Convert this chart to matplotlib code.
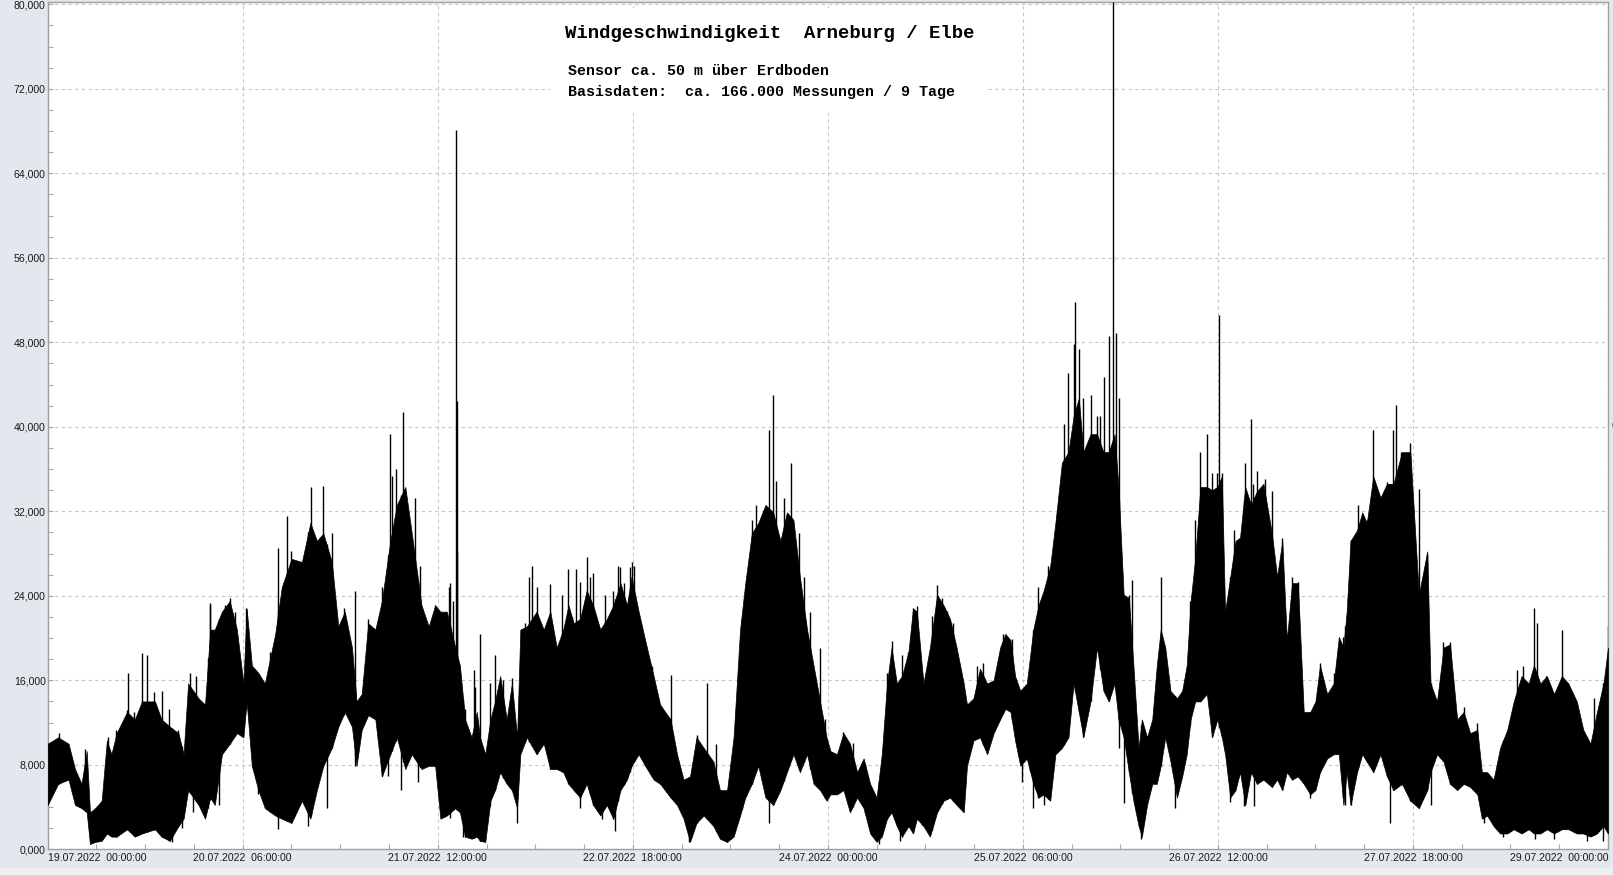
import numpy as np
import matplotlib
matplotlib.use("Agg")
import matplotlib.pyplot as plt
from matplotlib.patches import Rectangle
from matplotlib.ticker import MultipleLocator

W, H = 1613, 875

# time axis: hours since 19.07.2022 00:00:00
hours = [0.0, 1.6, 3.2, 4.2, 5.2, 6.0, 6.5, 7.3, 8.3, 9.1, 9.8, 10.6, 12.2, 13.4, 14.5,
         16.5, 17.5, 18.8, 20.1, 20.9, 21.6, 23.2, 24.2, 25.0, 25.7, 26.8, 28.0, 29.1,
         30.1, 30.6, 31.4, 32.4, 33.4, 35.0, 36.0, 37.5, 39.1, 40.4, 41.4, 42.4, 43.7,
         44.7, 45.7, 46.8, 47.5, 48.3, 49.3, 50.4, 51.4, 52.7, 53.7, 55.0, 56.0, 57.5,
         58.6, 59.6,
         60.4, 61.4, 62.7, 63.4, 64.2, 65.2, 66.0, 66.5, 67.3, 68.1, 68.8, 69.6, 70.6,
         71.4, 72.2, 72.7, 73.7, 75.2, 76.3, 77.3, 78.3, 79.3, 80.1, 80.9, 81.9, 82.9,
         83.9, 85.0, 86.0, 87.0, 88.1, 89.1, 89.8, 90.9, 91.9, 93.2, 94.2, 95.8, 96.8,
         97.8, 98.8, 99.8, 100.9, 102.4, 103.4, 104.5, 105.5, 106.5, 107.3, 108.3,
         109.3, 110.4, 111.6, 112.7, 113.7, 114.7, 115.7, 116.8, 117.8, 118.8, 119.8,
         120.4, 121.4, 122.4, 123.4, 124.5, 125.5, 126.5, 127.5, 128.3, 129.1, 129.8,
         130.6, 131.4, 132.4, 133.1, 133.7, 134.7, 135.7, 136.8, 137.8, 138.8, 139.8,
         140.9, 141.4, 142.4, 143.4, 144.5, 145.5, 146.5, 147.3, 148.1, 148.8, 149.6,
         150.6, 151.6, 152.4, 153.2, 154.2, 155.0, 156.0, 157.0, 157.8, 158.6, 159.3,
         160.4, 161.4, 162.4, 163.2, 164.1, 164.7, 165.5, 166.3, 167.0, 167.8, 168.3,
         169.1, 169.9, 170.6, 171.2, 171.9, 172.7, 173.7, 174.5, 175.2, 175.8, 176.5,
         177.3, 178.3,
         179.1, 179.9, 180.6, 181.1, 181.9, 182.7, 183.4, 184.2, 185.1, 186.0, 187.0,
         188.3, 189.1, 189.9, 190.6, 191.4, 192.3, 193.2, 194.2, 195.0, 195.7, 196.8,
         197.8, 198.6, 199.3, 199.8, 200.4, 201.4, 202.2, 202.9, 203.9, 205.0, 206.0,
         207.0, 208.3, 209.6, 210.9, 212.2, 212.7, 213.7, 214.7, 215.7, 216.8, 217.8,
         218.8, 219.9, 220.6, 221.4, 222.4, 223.4, 224.5, 225.5, 226.7, 227.8, 228.6,
         229.6, 230.6, 231.7, 232.9, 233.9, 235.2, 236.2, 237.3, 238.3, 239.3, 240.0]

# upper edge of the dense band of measurements
top = [10000, 10600, 10000, 7600, 6200, 9300, 3500, 3900, 4600, 10300, 9000, 11000, 13000,
       12300, 14000, 14000, 12300, 11600, 11000, 9000, 15700, 14300, 13700, 20800, 20800,
       22500, 23500, 20800, 15700, 22800, 17400, 16700, 15700, 20400, 24800, 27500, 27200,
       30900, 29200, 29900, 27200, 21100, 22500, 19100, 14000, 14700, 21400, 20800, 23500,
       29200, 32600, 34300, 29900, 23100, 21100, 23100,
       22500, 22500, 19100, 17400, 12300, 10600, 13000, 10600, 9000, 12300, 14000, 16400,
       12300, 15700, 10600, 20800, 21100, 22500, 20800, 22500, 19100, 20800, 23100, 21400,
       21800, 24500, 23100, 20800, 21800, 23100, 25200, 23100, 25800, 22500, 19800, 16400,
       13700, 12300, 9000, 6600, 6900, 10600, 9600, 8300, 5600, 5600, 10600, 20800, 25200,
       29900, 30900, 32600, 31900, 29200, 31900, 31200, 25800, 20800, 17400, 14000, 10600,
       9300, 9000, 11000, 10000, 7300, 8600, 6200, 4900, 9000, 15700, 19100, 15700, 16400,
       18700, 22800, 22500, 15700, 19100, 24100, 23100, 21800, 19100, 15700, 13700, 14300,
       17100, 15700, 16000, 19100, 20400, 19800, 16400, 15000, 15700, 20800, 23100, 24500,
       26800, 30900, 36600, 37600, 41000, 42700, 37600, 39300, 39300, 37600, 37600, 39300,
       34300, 24100, 23800, 17400, 9600, 12300, 10600, 12300, 17400, 20800, 19100, 15000,
       14300, 15000, 17400, 23500, 27500, 34300, 34300,
       34000, 34300, 35300, 22500, 25800, 29200, 29500, 34300, 32600, 33900, 34600, 29900,
       25800, 29200, 19800, 25200, 25200, 13000, 13000, 14000, 17400, 14700, 15700, 20100,
       19100, 22500, 29200, 30200, 31900, 30900, 35300, 33300, 34600, 34600, 37600, 37600,
       24100, 28200, 15700, 14000, 19100, 19400, 12300, 13000, 11000, 11300, 7300, 7300,
       6600, 9600, 11300, 14000, 16400, 15700, 17400, 15700, 16400, 14700, 16400, 15700,
       14000, 11300, 10000, 13000, 15700, 19100]

# lower edge of the dense band
bottom = [4200, 6200, 6600, 4200, 3900, 3500, 500, 700, 800, 1500, 1200, 1200, 1900, 1200,
          1500, 1900, 1200, 800, 2200, 2900, 5600, 4200, 2900, 4900, 4200, 9000, 10000,
          11000, 10600, 14000, 7900, 5600, 3900, 3200, 2900, 2500, 4600, 2900, 5600, 7900,
          9600, 11600, 13000, 11600, 7900, 11300, 12700, 12300, 6900, 9000, 10600, 7600,
          9000, 7600, 7900, 7900,
          2900, 3200, 3900, 3500, 1200, 1000, 1200, 800, 700, 4600, 5600, 7300, 6200, 5600,
          3900, 9000, 10600, 9000, 10000, 7600, 7600, 7300, 6200, 5600, 4900, 6200, 4200,
          3200, 4200, 2900, 5600, 6600, 7900, 9000, 7900, 6600, 6200, 4900, 4200, 2900, 700,
          2500, 3200, 2200, 1000, 700, 1200, 3200, 4900, 6200, 7900, 4900, 4200, 5600, 7300,
          9000, 7300, 9000, 6200, 5600, 4600,
          5200, 5200, 5600, 3500, 4900, 3900, 1500, 700, 1200, 2900, 3500, 2200, 1200, 2200,
          1500, 2900, 2200, 1200, 3500, 4600, 4900, 4200, 3500, 7900, 10300, 10600, 9000,
          11000, 12300, 13300, 13000, 10300, 7900, 8600, 6200, 4900, 5200, 4600, 9000, 9600,
          10600, 15700, 13000, 10600, 14000, 19100, 15000, 14000, 15700, 12300, 10600, 7300,
          4600, 2200, 1200, 4200, 6200, 6200, 7900, 10600, 8300, 4900, 6900, 9000, 12300,
          14000, 14000, 14700,
          10600, 12300, 10600, 9000, 4900, 5600, 7300, 4200, 7300, 6200, 6600, 5900, 6600,
          5600, 7300, 6600, 6900, 6200, 5200, 5600, 7300, 8600, 9000, 9000, 4200, 7300, 4200,
          7300, 9000, 8300, 7300, 9000, 6900, 5600, 6200, 4600, 3900, 5600, 7300, 9000, 8300,
          6200, 5600, 6200, 5900, 5200, 2900, 3200, 2200, 1500, 1500, 1900, 1500, 1900, 1500,
          1500, 1900, 1500, 1900, 1900, 1500, 1500, 1200, 1500, 2200, 1500]

# single measurements reaching above the band
spike_h = [1.7, 5.8, 9.3, 10.5, 12.2, 12.4, 13.3, 14.5, 15.2, 16.3, 17.6, 18.7, 20.0, 21.9,
           22.8, 24.9, 25.0, 26.3, 27.3, 28.0, 28.8, 30.5, 34.2, 35.5, 36.8, 37.5, 39.0,
           40.5, 42.4, 43.7, 45.5, 47.3, 49.3, 51.4, 52.7, 52.9, 53.5, 54.7, 56.5, 57.3,
           59.6,
           60.9, 61.7, 61.9, 62.3, 62.8, 62.9, 63.0, 64.2, 65.5, 65.7, 66.5, 68.0, 68.8,
           70.1, 71.4, 73.4, 74.1, 74.5, 75.2, 77.3, 79.1, 80.1, 81.2, 81.9, 82.9, 83.4,
           83.9, 85.7, 87.0, 87.7, 88.1, 88.6, 89.5, 89.8, 90.2, 91.4, 92.9, 94.2, 95.8,
           99.8, 101.4, 102.8, 106.8, 107.4, 108.3, 109.0, 109.8, 110.9, 111.6, 112.1,
           113.2, 114.4, 115.5, 116.3, 117.3, 118.8, 119.5,
           122.4, 123.8, 125.7, 129.1, 129.8, 131.4, 132.3, 133.1, 133.7, 134.5, 136.0,
           136.8, 137.5, 138.3, 139.3, 142.9, 143.9, 147.0, 148.3, 151.1, 152.4, 153.9,
           155.2, 156.3, 157.0, 157.8, 158.0, 158.6, 159.3, 160.4, 161.4, 161.9, 162.4,
           163.2, 163.9, 164.3, 164.8, 166.3, 166.8, 171.2, 175.7, 176.5, 177.3, 178.3,
           179.1, 179.6, 179.9,
           180.2, 180.6, 182.5, 183.4, 184.2, 185.1, 185.4, 186.0, 187.2, 188.3, 189.9,
           191.4, 192.3, 195.7, 197.8, 199.2, 200.4, 201.6, 202.9, 203.9, 205.1, 206.0,
           207.0, 207.4, 208.1, 209.6, 210.9, 212.2, 214.6, 215.7, 217.8, 219.9, 223.7,
           226.0, 227.0, 228.6, 229.1, 230.4, 232.9, 234.7, 237.8, 240.0]
spike_v = [11000, 9500, 10600, 11300, 13200, 16700, 13000, 18600, 18400, 14900, 15000,
           13300, 11300, 16700, 16400, 23300, 23100, 21800, 23100, 23800, 22500, 22800,
           18700, 28500, 31600, 28200, 27200, 34300, 34400, 29900, 22800, 24500, 21800,
           24800, 39300, 35300, 36000, 41400, 33300, 26800, 23100,
           22100, 24800, 25200, 23500, 68100, 42400, 28200, 13300, 17000, 15400, 20400,
           15700, 18400, 16000, 16200, 21400, 25800, 26800, 24800, 25100, 24100, 26500,
           26500, 25300, 27700, 25800, 26200, 24100, 24500, 26800, 26700, 25200, 26700,
           27200, 26800, 20400, 17400, 13700, 16500, 10800, 15700, 10000, 21800, 24800,
           31200, 32600, 31200, 39700, 43000, 34900, 33300, 36600, 29900, 25800, 22500,
           19100, 12300,
           11100, 10100, 8100, 16700, 19700, 18400, 18700, 22800, 23000, 16700, 22100,
           25000, 23800, 22600, 21400, 17400, 17600, 20400, 19900, 15000, 24800, 26800,
           30200, 40300, 45100, 47800, 51800, 47400, 42700, 43000, 41000, 41000, 44700,
           48600, 80190, 48900, 42700, 24100, 25500, 25800, 23500, 31200, 37600, 39300,
           35600, 33900, 35600,
           50600, 35600, 30200, 29500, 36600, 40700, 34600, 35800, 35100, 33900, 29500,
           25800, 25300, 17600, 16700, 20100, 29200, 32600, 31200, 39700, 33300, 34800,
           39700, 42100, 37600, 38500, 34100, 28000, 19600, 19600, 13500, 12000, 10000,
           17000, 17400, 22800, 21400, 16400, 20800, 14300, 14300, 21100]

# single measurements dropping below the band
dip_h = [19.1, 20.6, 22.4, 24.7, 26.3, 32.4, 35.5, 36.3, 40.1, 42.9, 47.3, 52.4, 54.4,
         57.0,
         61.9, 63.9, 72.2, 80.6, 81.9, 85.2, 87.3, 98.6, 104.5, 111.0,
         127.8, 131.1, 149.9, 151.6, 153.2, 164.8, 165.5, 168.2, 173.4,
         181.9, 184.0, 185.6, 194.2, 199.6, 200.5, 206.5, 212.7, 220.9, 223.9, 228.8,
         231.7, 236.8, 239.3]
dip_v = [700, 2000, 3500, 3900, 4200, 5200, 1900, 2900, 2200, 3900, 7900, 6900, 5600,
         6400,
         3000, 1200, 2500, 5900, 3900, 2900, 1700, 700, 700, 2500,
         500, 800, 6400, 3900, 4200, 9600, 4400, 1000, 3900,
         4500, 4100, 4100, 4900, 4200, 4600, 2500, 4200, 2500, 1200, 1000,
         1000, 800, 800]

y_ticks = [0, 8000, 16000, 24000, 32000, 40000, 48000, 56000, 64000, 72000, 80000]
y_labels = ['0,000', '8,000', '16,000', '24,000', '32,000', '40,000', '48,000',
            '56,000', '64,000', '72,000', '80,000']
x_ticks = [0, 30, 60, 90, 120, 150, 180, 210, 240]
x_labels = ['19.07.2022  00:00:00', '20.07.2022  06:00:00', '21.07.2022  12:00:00',
            '22.07.2022  18:00:00', '24.07.2022  00:00:00', '25.07.2022  06:00:00',
            '26.07.2022  12:00:00', '27.07.2022  18:00:00', '29.07.2022  00:00:00']

title = 'Windgeschwindigkeit  Arneburg / Elbe'
line2 = 'Sensor ca. 50 m über Erdboden'
line3 = 'Basisdaten:  ca. 166.000 Messungen / 9 Tage'

plt.rcParams['font.family'] = ['Liberation Sans', 'DejaVu Sans']

fig = plt.figure(figsize=(W / 100, H / 100), dpi=100)
fig.patch.set_facecolor('#e4e7ee')
ax = fig.add_axes([47.7 / W, 1 - 849.3 / H, (1608 - 47.7) / W, (849.3 - 2.3) / H])
ax.set_facecolor('white')

ax.fill_between(hours, bottom, top, color='black', linewidth=0.5, zorder=3)
ax.vlines(spike_h, np.interp(spike_h, hours, bottom), spike_v, color='black',
          linewidth=1.0, zorder=3)
ax.vlines(dip_h, dip_v, np.interp(dip_h, hours, top), color='black',
          linewidth=1.0, zorder=3)

ax.set_xlim(0, 240)
ax.set_ylim(0, 80190)

ax.set_xticks(x_ticks)
ax.set_xticklabels(x_labels)
ax.set_yticks(y_ticks)
ax.set_yticklabels(y_labels)
ax.xaxis.set_minor_locator(MultipleLocator(7.5))
ax.yaxis.set_minor_locator(MultipleLocator(2000))
ax.tick_params(which='both', direction='in', length=3.6, width=0.8, color='#a8a8a8',
               labelsize=7.6, labelcolor='#1a1a1a')
ax.tick_params(axis='x', pad=3)
ax.tick_params(axis='y', pad=1.5)
labels = ax.get_xticklabels()
labels[0].set_horizontalalignment('left')
labels[-1].set_horizontalalignment('right')

ax.grid(True, which='major', linestyle=(0, (3, 3)), color='#c6c6c6', linewidth=0.8,
        zorder=1)
ax.set_axisbelow(True)
for s in ax.spines.values():
    s.set_color('#a0a0a0')
    s.set_linewidth(1.0)

# white box behind the caption
fig.add_artist(Rectangle((550 / W, 1 - 110 / H), 435 / W, 102 / H,
                         transform=fig.transFigure, facecolor='white',
                         edgecolor='none', zorder=2))
# lighter strip along the bottom edge
fig.add_artist(Rectangle((0, 0), 1, 7 / H, transform=fig.transFigure,
                         facecolor='#eef0f4', edgecolor='none', zorder=-1))

fig.text(565 / W, 1 - 33 / H, title, family='Liberation Mono', weight='bold',
         fontsize=13.7, va='center', ha='left', zorder=3)
fig.text(568 / W, 1 - 71 / H, line2, family='Liberation Mono', weight='bold',
         fontsize=10.8, va='center', ha='left', zorder=3)
fig.text(568 / W, 1 - 92 / H, line3, family='Liberation Mono', weight='bold',
         fontsize=10.8, va='center', ha='left', zorder=3)
# partly visible glyph at the right edge, as in the original screenshot
fig.text(1611 / W, 1 - 426 / H, '6', fontsize=7.6, va='center', ha='left')

fig.savefig('out.png', dpi=100, facecolor=fig.get_facecolor())
